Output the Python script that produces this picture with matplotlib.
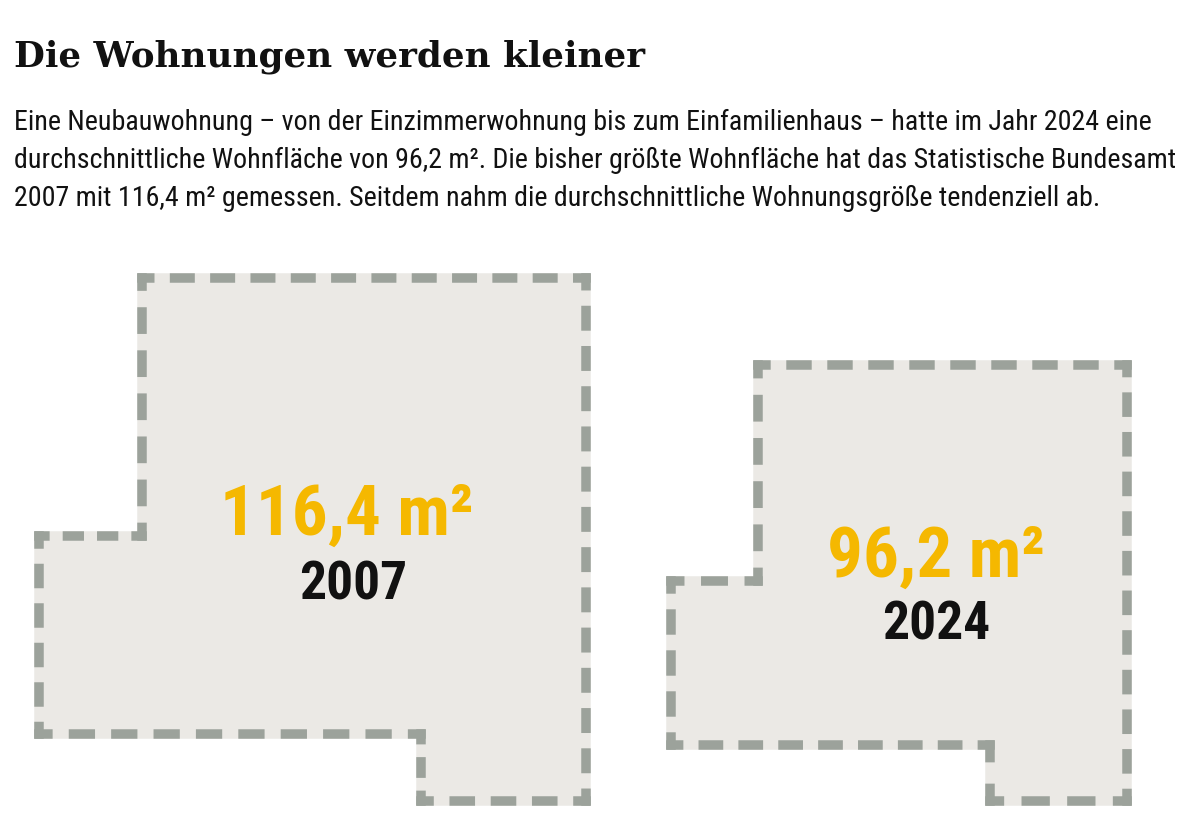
import numpy as np
import matplotlib
matplotlib.use("Agg")
import matplotlib.pyplot as plt
from matplotlib.patches import Polygon
from matplotlib import font_manager

# flat outlines (pixel coords of the dashed centre line)
years = [2007, 2024]
areas = [116.4, 96.2]
outline_x_2007 = [142, 585.5, 585.5, 420.5, 420.5, 39, 39, 142]
outline_y_2007 = [278, 278, 801, 801, 734, 734, 536.5, 536.5]
outline_x_2024 = [758, 1127, 1127, 990, 990, 671, 671, 758]
outline_y_2024 = [365, 365, 801, 801, 745, 745, 581, 581]

title = "Die Wohnungen werden kleiner"
subtitle = [
    "Eine Neubauwohnung – von der Einzimmerwohnung bis zum Einfamilienhaus – hatte im Jahr 2024 eine",
    "durchschnittliche Wohnfläche von 96,2 m². Die bisher größte Wohnfläche hat das Statistische Bundesamt",
    "2007 mit 116,4 m² gemessen. Seitdem nahm die durchschnittliche Wohnungsgröße tendenziell ab.",
]

FILL = "#ebe9e5"
DASH = "#9ca29b"
YELLOW = "#f5b800"
W, H = 1200, 821
PX = 0.72   # points per pixel at dpi 100


def pick(*names):
    for n in names:
        try:
            font_manager.findfont(n, fallback_to_default=False)
            return n
        except Exception:
            pass
    return "DejaVu Sans"


NARROW = pick("Liberation Sans Narrow", "Roboto Condensed", "DejaVu Sans Condensed", "Liberation Sans")
SLAB = pick("DejaVu Serif Condensed", "DejaVu Serif")

plt.rcParams["lines.scale_dashes"] = False

fig = plt.figure(figsize=(W / 100, H / 100), dpi=100)
ax = fig.add_axes([0, 0, 1, 1])
ax.set_xlim(0, W)
ax.set_ylim(H, 0)
ax.axis("off")

lw_px = 9.5
lw = lw_px * PX


def draw_flat(xs, ys):
    pts = np.column_stack([xs, ys])
    ax.add_patch(Polygon(pts, closed=True, facecolor=FILL, edgecolor=FILL,
                         linewidth=lw, joinstyle="miter"))
    # each wall dashed on its own so every corner gets an L-shaped dash
    for i in range(len(pts)):
        a, b = pts[i], pts[(i + 1) % len(pts)]
        L = np.hypot(*(b - a))
        n = max(1, int(round(L / 41)))
        period = L / n
        on = period * 0.62
        off = period - on
        on_pt = (on - lw_px) * PX
        off_pt = (off + lw_px) * PX
        ax.plot([a[0], b[0]], [a[1], b[1]], color=DASH, linewidth=lw,
                linestyle=(on_pt / 2, (on_pt, off_pt)),
                dash_capstyle="projecting", solid_capstyle="projecting")


draw_flat(outline_x_2007, outline_y_2007)
draw_flat(outline_x_2024, outline_y_2024)

label_pos = [(347, 535, 353, 600), (936, 577, 936, 640)]
for yr, val, (xv, yv, xy, yy) in zip(years, areas, label_pos):
    txt = f"{val:.1f}".replace(".", ",") + " m²"
    ax.text(xv, yv, txt, color=YELLOW, fontsize=51, fontweight="bold",
            family=[NARROW, "DejaVu Sans"], ha="center", va="baseline")
    ax.text(xy, yy, str(yr), color="#111111", fontsize=38.5, fontweight="bold",
            family=[NARROW, "DejaVu Sans"], ha="center", va="baseline")

ax.text(14, 66, title, fontsize=25.7, fontweight="bold", color="#111111",
        family=[SLAB, "DejaVu Serif"], ha="left", va="baseline")
for k, line in enumerate(subtitle):
    ax.text(14, 130 + 38 * k, line, fontsize=20.2, color="#111111",
            family=[NARROW, "DejaVu Sans"], ha="left", va="baseline")

fig.savefig("out.png", dpi=100, facecolor="white")
